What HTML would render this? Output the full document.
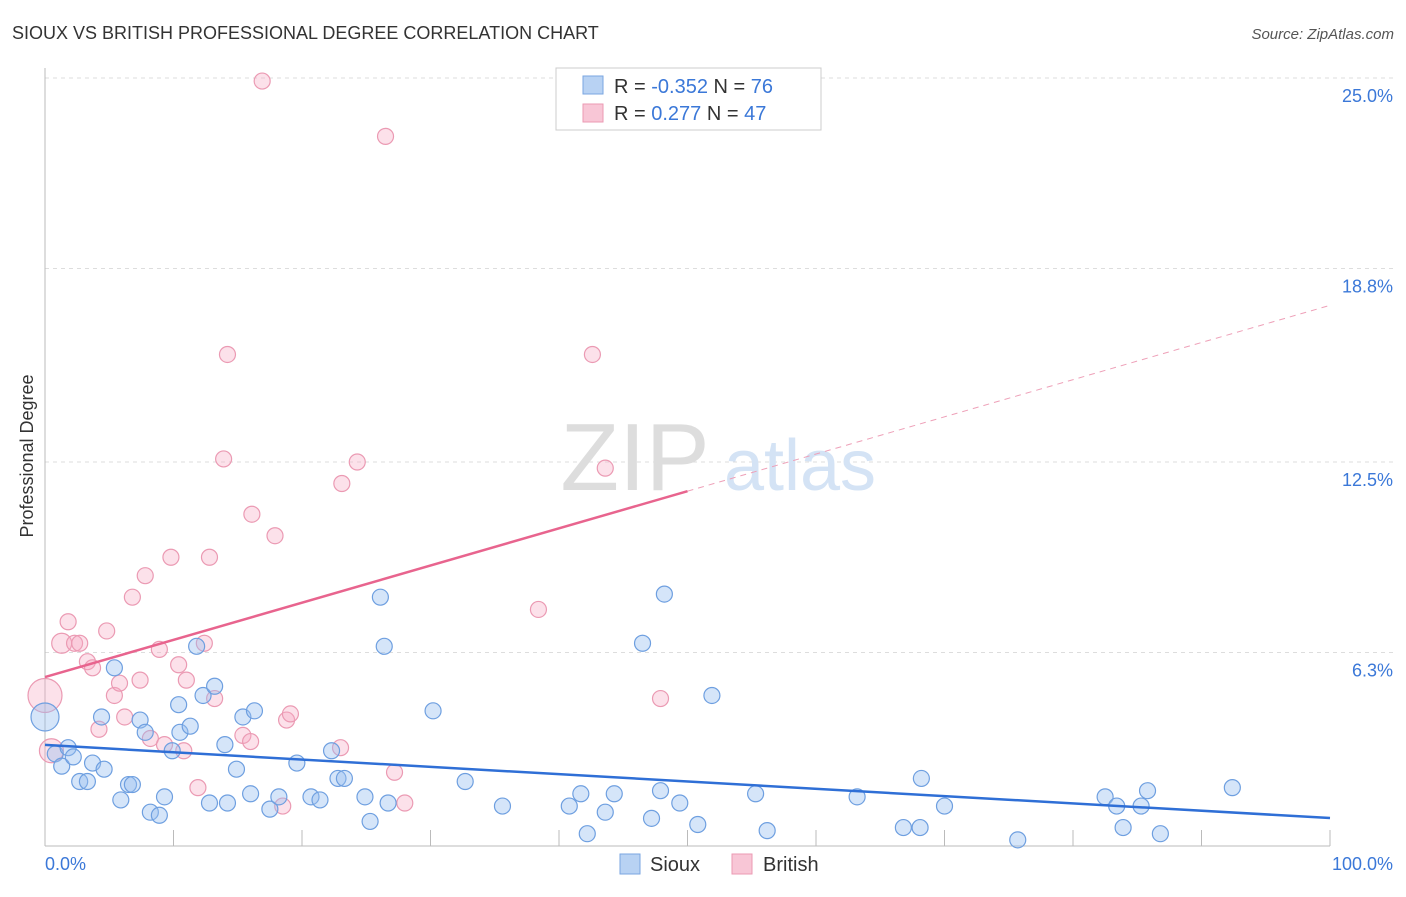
<!DOCTYPE html>
<html><head><meta charset="utf-8"><style>
body{margin:0;background:#fff;font-family:"Liberation Sans",sans-serif;}
svg text{font-family:"Liberation Sans",sans-serif;}
</style></head><body>
<svg width="1406" height="892" xmlns="http://www.w3.org/2000/svg">
<text x="12" y="39" font-size="18" fill="#333">SIOUX VS BRITISH PROFESSIONAL DEGREE CORRELATION CHART</text>
<text x="1394" y="39" font-size="15" fill="#555" font-style="italic" text-anchor="end">Source: ZipAtlas.com</text>
<g id="grid"></g>
<text x="635" y="490" font-size="96" fill="#ddd" font-family="Liberation Serif" text-anchor="middle">ZIP</text>
<text x="800" y="490" font-size="72" fill="#d4e3f5" text-anchor="middle">atlas</text>
<text transform="translate(33,456) rotate(-90)" font-size="18" fill="#333" text-anchor="middle">Professional Degree</text>
<g id="marks"></g>
<g>
<rect x="556" y="68" width="265" height="62" fill="#fff" stroke="#ccc"/>
<rect x="583" y="76" width="20" height="18" fill="#b8d2f3" stroke="#7aa6e0"/>
<rect x="583" y="104" width="20" height="18" fill="#f8c6d6" stroke="#eb9ab3"/>
<text x="614" y="93" font-size="20" fill="#333">R = <tspan fill="#3b78d8">-0.352</tspan>   N = <tspan fill="#3b78d8">76</tspan></text>
<text x="614" y="120" font-size="20" fill="#333">R =   <tspan fill="#3b78d8">0.277</tspan>   N = <tspan fill="#3b78d8">47</tspan></text>
</g>
<g>
<rect x="620" y="854" width="20" height="20" fill="#b8d2f3" stroke="#7aa6e0"/>
<text x="650" y="871" font-size="20" fill="#333">Sioux</text>
<rect x="732" y="854" width="20" height="20" fill="#f8c6d6" stroke="#eb9ab3"/>
<text x="763" y="871" font-size="20" fill="#333">British</text>
</g>
</svg>
<script>
const yTicks=[25.0,18.8,12.5,6.3];
const yTickLabels=["25.0%","18.8%","12.5%","6.3%"];
const xTickLabels=["0.0%","100.0%"];
const siouxX=[0,0.8,1.3,1.8,2.2,2.7,3.3,3.7,4.4,4.6,5.4,5.9,6.5,6.8,7.4,7.8,8.2,8.9,9.3,9.9,10.4,10.5,11.3,11.8,12.3,12.8,13.2,14.0,14.2,14.9,15.4,16.0,16.3,17.5,18.2,19.6,20.7,21.4,22.3,22.8,23.3,24.9,25.3,26.1,26.4,26.7,30.2,32.7,35.6,40.8,41.7,42.2,43.6,44.3,46.5,47.2,47.9,48.2,49.4,50.8,51.9,55.3,56.2,63.2,66.8,68.1,68.2,70.0,75.7,82.5,83.4,83.9,85.3,85.8,86.8,92.4];
const siouxY=[4.2,3.0,2.6,3.2,2.9,2.1,2.1,2.7,4.2,2.5,5.8,1.5,2.0,2.0,4.1,3.7,1.1,1.0,1.6,3.1,4.6,3.7,3.9,6.5,4.9,1.4,5.2,3.3,1.4,2.5,4.2,1.7,4.4,1.2,1.6,2.7,1.6,1.5,3.1,2.2,2.2,1.6,0.8,8.1,6.5,1.4,4.4,2.1,1.3,1.3,1.7,0.4,1.1,1.7,6.6,0.9,1.8,8.2,1.4,0.7,4.9,1.7,0.5,1.6,0.6,0.6,2.2,1.3,0.2,1.6,1.3,0.6,1.3,1.8,0.4,1.9];
const britX=[0,0.5,1.3,1.8,2.3,2.7,3.3,3.7,4.2,4.8,5.4,5.8,6.2,6.8,7.4,7.8,8.2,8.9,9.3,9.8,10.4,10.8,11.0,11.9,12.4,12.8,13.2,13.9,14.2,15.4,16.0,16.1,16.9,17.9,18.5,18.8,19.1,23.0,23.1,24.3,26.5,27.2,28.0,38.4,42.6,43.6,47.9];
const britY=[4.9,3.1,6.6,7.3,6.6,6.6,6.0,5.8,3.8,7.0,4.9,5.3,4.2,8.1,5.4,8.8,3.5,6.4,3.3,9.4,5.9,3.1,5.4,1.9,6.6,9.4,4.8,12.6,16.0,3.6,3.4,10.8,24.9,10.1,1.3,4.1,4.3,3.2,11.8,12.5,23.1,2.4,1.4,7.7,16.0,12.3,4.8];
const siouxTrend=[3.29,0.91];
const britTrend=[5.5,17.6];
const x0=45,x1=1330,yb=846,pxPer=30.72;
const X=v=>x0+v/100*(x1-x0);
const Y=v=>yb-v*pxPer;
const NS="http://www.w3.org/2000/svg";
function mk(tag,attrs,parent){const e=document.createElementNS(NS,tag);for(const k in attrs)e.setAttribute(k,attrs[k]);parent.appendChild(e);return e;}
const grid=document.getElementById('grid');
yTicks.forEach((t,i)=>{
 const l=mk('line',{x1:x0,x2:1395,y1:Y(t)-(i==0?-0:0),y2:Y(t),stroke:'#ddd','stroke-dasharray':'4,4'},grid);
 
 
 const tx=mk('text',{x:1393,y:Y(t)+24,'font-size':18,fill:'#3b78d8','text-anchor':'end'},grid);
 tx.textContent=yTickLabels[i];
 
 
});
const ax=mk('line',{x1:x0,x2:x0,y1:68,y2:yb,stroke:'#bbb'},grid);


const bx=mk('line',{x1:x0,x2:x1,y1:yb,y2:yb,stroke:'#bbb'},grid);


for(let i=0;i<=10;i++){
 const t=mk('line',{x1:X(i*10),x2:X(i*10),y1:yb,y2:yb-16,stroke:'#bbb'},grid);
 
 
}
[[0,'start',45],[100,'end',1393]].forEach((d,i)=>{
 const t=mk('text',{x:d[2],y:870,'font-size':18,fill:'#3b78d8','text-anchor':d[1]},grid);
 t.textContent=xTickLabels[i];
 
 
});
const marks=document.getElementById('marks');
britX.forEach((v,i)=>{
 const r=i==0?17:(i==1?12:(i==2?10:8));
 const c=mk('circle',{cx:X(v),cy:Y(britY[i]),r:r,fill:'rgba(245,170,195,0.35)',stroke:'#eb9ab3','stroke-width':1.2},marks);
 
 
});
siouxX.forEach((v,i)=>{
 const r=i==0?14:8;
 const c=mk('circle',{cx:X(v),cy:Y(siouxY[i]),r:r,fill:'rgba(150,190,240,0.4)',stroke:'#6e9fe0','stroke-width':1.2},marks);
 
 
});
const bt=mk('line',{x1:X(0),y1:Y(siouxTrend[0]),x2:X(100),y2:Y(siouxTrend[1]),stroke:'#2f6fd6','stroke-width':2.5},marks);


const pm=(britTrend[0]+britTrend[1])/2;
const pt=mk('line',{x1:X(0),y1:Y(britTrend[0]),x2:X(50),y2:Y(pm),stroke:'#e8648e','stroke-width':2.5},marks);


const pd=mk('line',{x1:X(50),y1:Y(pm),x2:X(100),y2:Y(britTrend[1]),stroke:'#eea0b8','stroke-width':1,'stroke-dasharray':'6,5'},marks);


</script>
</body></html>
